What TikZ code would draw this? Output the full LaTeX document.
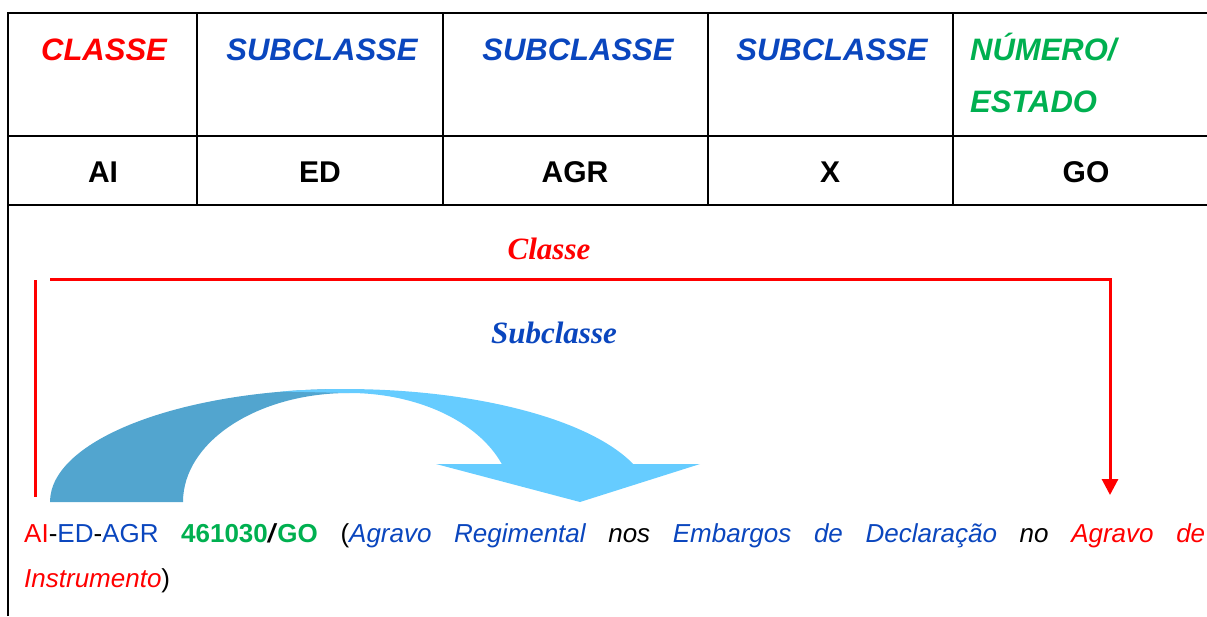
\documentclass[tikz,border=0pt]{standalone}
\usepackage{fontspec}
\setmainfont{Liberation Sans}
\newfontfamily\serifft{Liberation Serif}
\usetikzlibrary{arrows.meta}
\definecolor{cred}{RGB}{255,0,0}
\definecolor{cblue}{RGB}{10,70,190}
\definecolor{cgreen}{RGB}{0,176,80}
\definecolor{cdark}{RGB}{82,165,207}
\definecolor{clight}{RGB}{102,204,255}
\tikzset{
  grid/.style={line width=2pt, black},
  hdr/.style={anchor=base, inner sep=0pt, font=\fontsize{31}{37}\selectfont\bfseries\itshape},
  val/.style={anchor=base, inner sep=0pt, font=\fontsize{30}{36}\selectfont\bfseries},
  lbl/.style={anchor=base, inner sep=0pt, font=\fontsize{31}{37}\selectfont\serifft\bfseries\itshape},
  txt/.style={anchor=base west, inner sep=0pt, font=\fontsize{26}{32}\selectfont},
  redline/.style={line width=3pt, cred},
}
\begin{document}
\begin{tikzpicture}[x=1pt,y=-1pt]
\useasboundingbox (0,0) rectangle (1207,616);
% table grid
\draw[grid] (8,616) -- (8,13) -- (1207,13);
\draw[grid] (8,136) -- (1207,136);
\draw[grid] (8,205) -- (1207,205);
\foreach \x in {197,443,708,953} \draw[grid] (\x,13) -- (\x,205);
% header
\node[hdr, text=cred] (h1) at (104,60) {CLASSE};
\node[hdr, text=cblue] (h2) at (322,60) {SUBCLASSE};
\node[hdr, text=cblue] (h3) at (578,60) {SUBCLASSE};
\node[hdr, text=cblue] (h4) at (832,60) {SUBCLASSE};
\node[hdr, text=cgreen, anchor=base west] (h5) at (970,60) {NÚMERO/};
\node[hdr, text=cgreen, anchor=base west] (h5b) at (970,112) {ESTADO};
% values
\node[val] (v1) at (103,182) {AI};
\node[val] (v2) at (320,182) {ED};
\node[val] (v3) at (575,182) {AGR};
\node[val] (v4) at (830,182) {X};
\node[val] (v5) at (1086,182) {GO};
% labels
\node[lbl, text=cred] (lc) at (549,259) {Classe};
\node[lbl, text=cblue] (ls) at (554,343) {Subclasse};
% red bracket
\coordinate (la) at (35,280);
\coordinate (lb) at (35,497);
\draw[redline] (la) -- (lb);
\coordinate (ta) at (50,279);
\coordinate (tb) at (1110,279);
\coordinate (tc) at (1110,495);
\draw[redline, -{Triangle[length=16pt,width=16pt]}] (ta) -- (tb) -- (tc);
% curved arrow
\fill[cdark] (50,502) arc[start angle=180, end angle=270, x radius=295, y radius=113]
  -- (349,393) arc[start angle=270, end angle=180, x radius=166, y radius=109] -- cycle;
\fill[clight] (281.4,391.5) arc[start angle=258, end angle=340.4, x radius=306, y radius=113]
  -- (700,464) -- (580,502) -- (436,464) -- (501.8,464)
  arc[start angle=339.6, end angle=270, x radius=163, y radius=109] -- cycle;
% bottom text
\node[txt] (t1) at (24,542) {\hbox to 1181pt{\textcolor{cred}{AI}-\textcolor{cblue}{ED}-\textcolor{cblue}{AGR}\hfill
  {\bfseries\textcolor{cgreen}{461030}\textit{/}\textcolor{cgreen}{GO}}\hfill
  (\textcolor{cblue}{\itshape Agravo}\hfill
  \textcolor{cblue}{\itshape Regimental}\hfill
  {\itshape nos}\hfill
  \textcolor{cblue}{\itshape Embargos}\hfill
  \textcolor{cblue}{\itshape de}\hfill
  \textcolor{cblue}{\itshape Declaração}\hfill
  {\itshape no}\hfill
  \textcolor{cred}{\itshape Agravo}\hfill
  \textcolor{cred}{\itshape de}}};
\node[txt] (t2) at (24,587) {\textcolor{cred}{\itshape Instrumento})};
\end{tikzpicture}
\end{document}
